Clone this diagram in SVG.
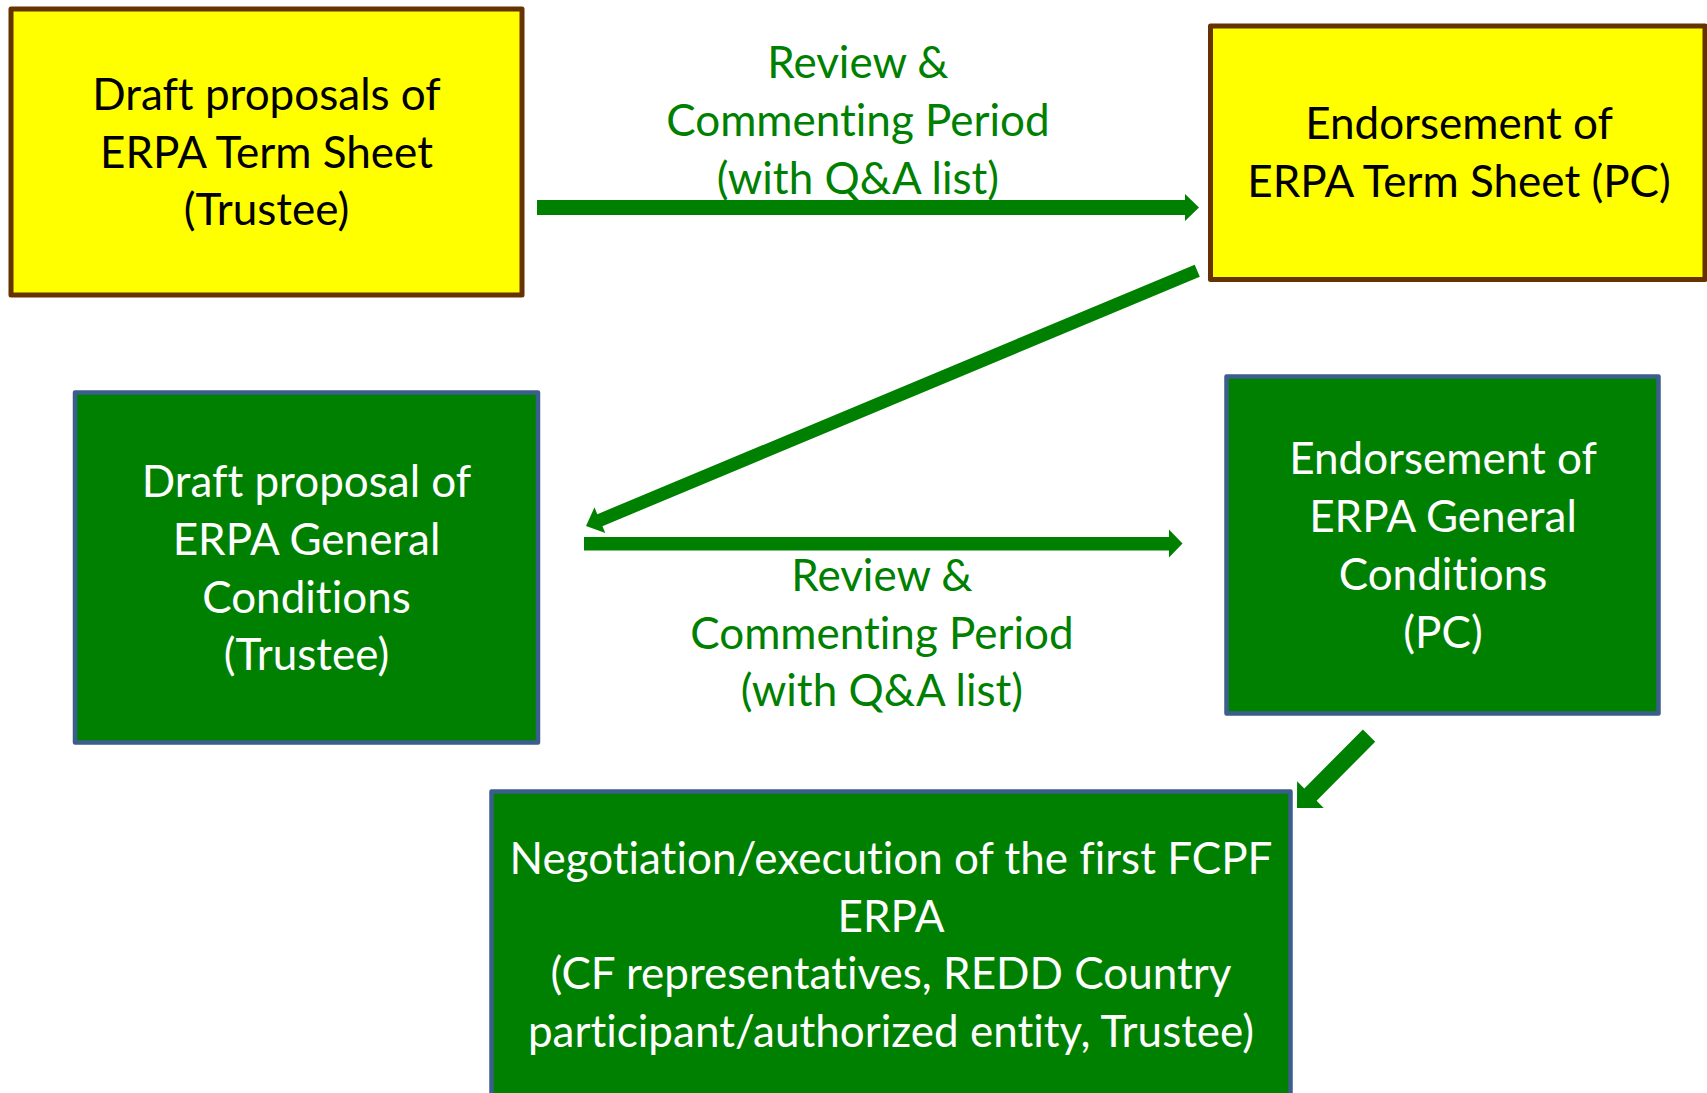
<svg xmlns="http://www.w3.org/2000/svg" width="1707" height="1093" viewBox="0 0 1707 1093">
<style>
.yel{fill:#FFFF00;stroke:#663300;stroke-width:5;stroke-linejoin:round}
.grn{fill:#008000;stroke:#3B5E8C;stroke-width:4.5;stroke-linejoin:round}
text{font-family:Lato,"Open Sans","Liberation Sans",sans-serif;font-size:44px;text-anchor:middle;font-variant-ligatures:none;font-feature-settings:"liga" 0,"clig" 0}
.dk{fill:#000000}
.wt{fill:#FFFFFF}
.lb{fill:#008000}
.arr{fill:#008000}
</style>
<rect width="1707" height="1093" fill="#FFFFFF"/>
<g id="connectors">
<polygon class="arr" points="537,200 1185,200 1185,194 1199,207.5 1185,221 1185,215 537,215"/>
<polygon class="arr" points="586,526 605.3,533.1 602.4,526.2 1199.8,276.7 1194.7,264.7 597.3,514.2 594.5,507.3"/>
<polygon class="arr" points="584,537 1169,537 1169,529.5 1182.5,543.5 1169,557.5 1169,550.5 584,550.5"/>
<polygon class="arr" points="1297,808 1323.7,807.9 1316.6,800.8 1375.2,741.7 1362.9,729.4 1304.3,788.5 1297.1,781.3"/>
<g id="label-top">
<text class="lb" x="858" y="78">Review &amp;</text>
<text class="lb" x="858" y="136">Commenting Period</text>
<text class="lb" x="858" y="194">(with Q&amp;A list)</text>
</g>
<g id="label-bottom">
<text class="lb" x="882" y="591">Review &amp;</text>
<text class="lb" x="882" y="649">Commenting Period</text>
<text class="lb" x="882" y="706">(with Q&amp;A list)</text>
</g>
</g>
<g id="node-draft-term-sheet">
<rect class="yel" x="11" y="9" width="511" height="286"/>
<text class="dk" x="266.5" y="110">Draft proposals of</text>
<text class="dk" x="266.5" y="168">ERPA Term Sheet</text>
<text class="dk" x="266.5" y="225">(Trustee)</text>
</g>
<g id="node-endorse-term-sheet">
<rect class="yel" x="1210.5" y="26" width="494.5" height="253.5"/>
<text class="dk" x="1459" y="139">Endorsement of</text>
<text class="dk" x="1459" y="197">ERPA Term Sheet (PC)</text>
</g>
<g id="node-draft-general">
<rect class="grn" x="75" y="392.5" width="463" height="350"/>
<text class="wt" x="306.5" y="497">Draft proposal of</text>
<text class="wt" x="306.5" y="555">ERPA General</text>
<text class="wt" x="306.5" y="613">Conditions</text>
<text class="wt" x="306.5" y="670">(Trustee)</text>
</g>
<g id="node-endorse-general">
<rect class="grn" x="1226.5" y="376.5" width="432" height="337"/>
<text class="wt" x="1443" y="474">Endorsement of</text>
<text class="wt" x="1443" y="532">ERPA General</text>
<text class="wt" x="1443" y="590">Conditions</text>
<text class="wt" x="1443" y="648">(PC)</text>
</g>
<g id="node-negotiation">
<rect class="grn" x="491.5" y="791.5" width="799" height="330"/>
<text class="wt" x="891" y="874">Negotiation/execution of the first FCPF</text>
<text class="wt" x="891" y="932">ERPA</text>
<text class="wt" x="891" y="989">(CF representatives, REDD Country</text>
<text class="wt" x="891" y="1047">participant/authorized entity, Trustee)</text>
</g>
</svg>
